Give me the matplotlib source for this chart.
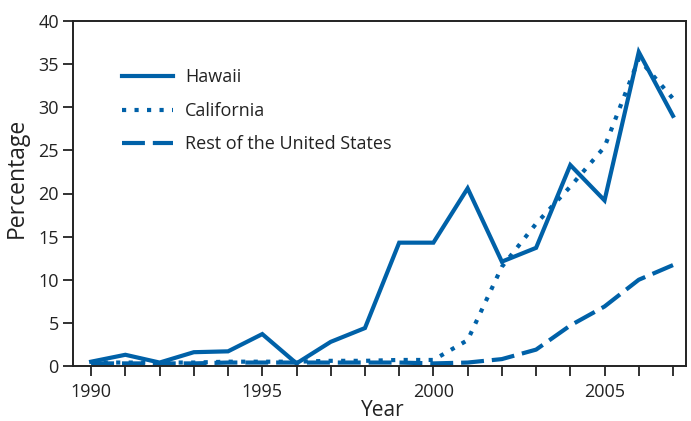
import matplotlib
matplotlib.use("Agg")
import matplotlib.pyplot as plt
from matplotlib.ticker import MultipleLocator, FixedLocator

years = list(range(1990, 2008))
hawaii = [0.5, 1.3, 0.4, 1.6, 1.7, 3.7, 0.3, 2.8, 4.4, 14.3, 14.3, 20.6, 12.1, 13.7, 23.3, 19.2, 36.4, 29.0]
california = [0.4, 0.4, 0.4, 0.4, 0.5, 0.5, 0.5, 0.6, 0.6, 0.7, 0.7, 3.0, 11.5, 16.5, 20.8, 25.4, 35.6, 31.0]
rest = [0.3, 0.3, 0.3, 0.3, 0.4, 0.4, 0.4, 0.4, 0.4, 0.4, 0.3, 0.4, 0.8, 1.9, 4.7, 6.9, 10.0, 11.7]

color = "#0061A8"
plt.rcParams['font.family'] = ['Open Sans', 'DejaVu Sans']

fig = plt.figure(figsize=(6.91, 4.21), dpi=100)
ax = fig.add_axes([73/691, 1-366/421, (686-73)/691, (366-21)/421])

lw = 3.0
ax.plot(years, hawaii, color=color, lw=lw, solid_joinstyle='miter', label="Hawaii")
ax.plot(years, california, color=color, lw=lw, linestyle=(0, (1.0, 2.0)), label="California")
ax.plot(years, rest, color=color, lw=lw, linestyle=(0, (5.5, 1.9)), label="Rest of the United States")

ax.set_xlim(1989.47, 2007.38)
ax.set_ylim(0, 40)
ax.xaxis.set_major_locator(FixedLocator([1990, 1995, 2000, 2005]))
ax.xaxis.set_minor_locator(MultipleLocator(1))
ax.yaxis.set_major_locator(MultipleLocator(5))
ax.tick_params(axis='x', which='both', direction='out', length=7.2, width=1.3, labelsize=13, pad=5, colors='#222222')
ax.tick_params(axis='y', direction='out', length=7.2, width=1.3, labelsize=13, pad=3, colors='#222222')
for s in ax.spines.values():
    s.set_linewidth(1.4)
    s.set_color('#222222')

ax.set_xlabel("Year", fontsize=15, color='#222222')
ax.set_ylabel("Percentage", fontsize=16.5, color='#222222')
ax.xaxis.set_label_coords(0.506, -0.100)
ax.yaxis.set_label_coords(-0.072, 0.545)

leg = ax.legend(loc='upper left', bbox_to_anchor=(0.0535, 0.91), frameon=False, fontsize=13,
                handlelength=2.83, handletextpad=0.67, labelspacing=0.86)
for t in leg.get_texts():
    t.set_color('#222222')

fig.savefig("out.png", dpi=100)
